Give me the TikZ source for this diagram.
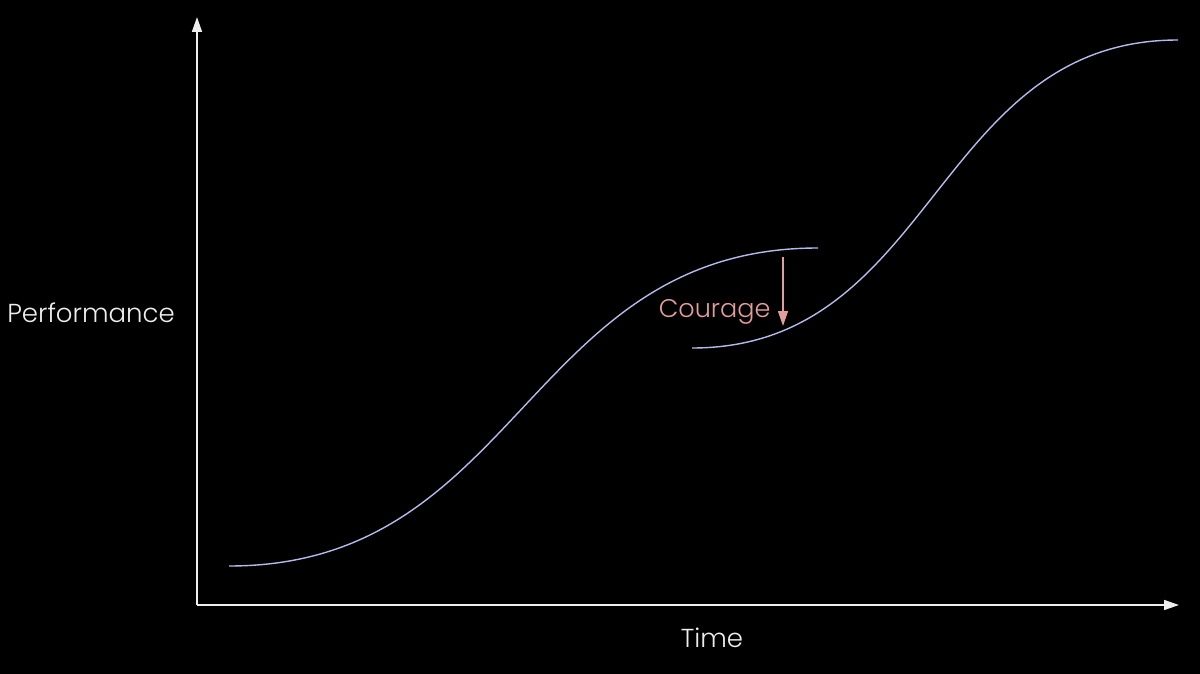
\documentclass[tikz,border=0pt]{standalone}
\usepackage{fontspec}
\setmainfont{Poppins Light}
\usetikzlibrary{arrows.meta}

\definecolor{curvecol}{RGB}{182,186,232}
\definecolor{couragecol}{RGB}{226,158,156}
\definecolor{axiscol}{RGB}{238,238,238}

\begin{document}
\begin{tikzpicture}[x=1pt, y=-1pt, >={Triangle[length=15pt,width=10pt]}]
  % Background and bounding box
  \fill[black] (0,0) rectangle (1200,674);
  \useasboundingbox (0,0) rectangle (1200,674);

  % Axes
  \coordinate (O) at (197,605); % origin
  \coordinate (Ytop) at (197,17);
  \coordinate (Xend) at (1179,605);
  \draw[axiscol, line width=1.6pt, ->] (O) -- (Ytop);
  \draw[axiscol, line width=1.6pt, ->] (O) -- (Xend);

  % First S-curve
  \coordinate (A) at (229,566);
  \coordinate (A1) at (818,248);
  \draw[curvecol, line width=1.4pt] (A) .. controls (520,566) and (527,248) .. (A1);

  % Second S-curve
  \coordinate (B) at (692,348);
  \coordinate (B1) at (1178,40);
  \draw[curvecol, line width=1.4pt] (B) .. controls (935,348) and (935,40) .. (B1);

  % Courage drop
  \coordinate (C) at (783,257);
  \coordinate (C1) at (783,326);
  \draw[couragecol, line width=1.4pt, ->] (C) -- (C1);
  \node[couragecol, font=\fontsize{25.5}{30}\selectfont, anchor=east] (courage) at (774,312) {Courage};

  % Axis labels
  \node[axiscol, font=\fontsize{26}{30}\selectfont] (perf) at (91,313) {Performance};
  \node[axiscol, font=\fontsize{26}{30}\selectfont] (time) at (712,638) {Time};
\end{tikzpicture}
\end{document}
